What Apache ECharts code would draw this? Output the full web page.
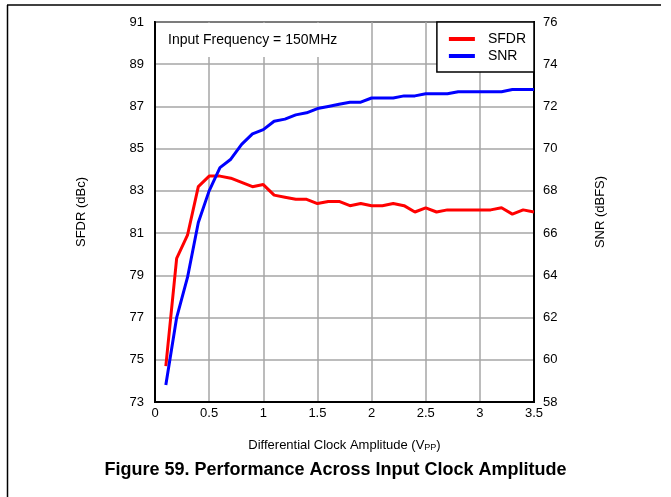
<!DOCTYPE html>
<html>
<head>
<meta charset="utf-8">
<script src="https://cdn.jsdelivr.net/npm/echarts@6/dist/echarts.min.js"></script>
<style>
    html, body { margin: 0; padding: 0; background: #fff; }
</style>
</head>
<body>
<div id="main" style="width: 671px; height: 497px"></div>
<script>
// 差分时钟幅度 (Vpp)
var amplitude = [0.1, 0.2, 0.3, 0.4, 0.5, 0.6, 0.7, 0.8, 0.9, 1.0,
    1.1, 1.2, 1.3, 1.4, 1.5, 1.6, 1.7, 1.8, 1.9, 2.0,
    2.1, 2.2, 2.3, 2.4, 2.5, 2.6, 2.7, 2.8, 2.9, 3.0,
    3.1, 3.2, 3.3, 3.4, 3.5]
// SFDR (dBc)
var sfdr = [74.7, 79.8, 80.9, 83.2, 83.7, 83.7, 83.6, 83.4, 83.2, 83.3,
    82.8, 82.7, 82.6, 82.6, 82.4, 82.5, 82.5, 82.3, 82.4, 82.3,
    82.3, 82.4, 82.3, 82.0, 82.2, 82.0, 82.1, 82.1, 82.1, 82.1,
    82.1, 82.2, 81.9, 82.1, 82.0]
// SNR (dBFS)
var snr = [58.8, 62.0, 63.9, 66.5, 68.0, 69.1, 69.5, 70.2, 70.7, 70.9,
    71.3, 71.4, 71.6, 71.7, 71.9, 72.0, 72.1, 72.2, 72.2, 72.4,
    72.4, 72.4, 72.5, 72.5, 72.6, 72.6, 72.6, 72.7, 72.7, 72.7,
    72.7, 72.7, 72.8, 72.8, 72.8]
var leftTicks = [73, 75, 77, 79, 81, 83, 85, 87, 89, 91]
var rightTicks = [58, 60, 62, 64, 66, 68, 70, 72, 74, 76]
var xTicks = [0, 0.5, 1, 1.5, 2, 2.5, 3, 3.5]

var font = 'Liberation Sans, Arial, sans-serif'

function pairs(xs, ys) {
    return xs.map(function (x, i) { return [x, ys[i]] })
}

var myChart = echarts.init(document.getElementById('main'))
var option = {
    animation: false,
    textStyle: { fontFamily: font, color: '#000' },
    title: {
        text: 'Input Frequency = 150MHz',
        left: 156,
        top: 23,
        padding: [10, 12, 10, 12],
        backgroundColor: '#fff',
        textStyle: { fontFamily: font, fontSize: 14, fontWeight: 'normal', color: '#000' }
    },
    legend: {
        data: ['SFDR', 'SNR'],
        orient: 'vertical',
        right: 137,
        top: 22,
        padding: [10, 8, 9, 12],
        itemGap: 3,
        itemWidth: 26,
        itemHeight: 4,
        icon: 'rect',
        backgroundColor: '#fff',
        borderColor: '#000',
        borderWidth: 1.5,
        borderRadius: 0,
        textStyle: { fontFamily: font, fontSize: 14, color: '#000', padding: [0, 0, 0, 8] }
    },
    grid: {
        left: 155,
        right: 137,
        top: 22,
        bottom: 95,
        show: true,
        borderColor: '#000',
        borderWidth: 2,
        backgroundColor: '#fff'
    },
    xAxis: {
        type: 'value',
        min: 0,
        max: 3.5,
        interval: 0.5,
        name: '{a|Differential Clock Amplitude (V}{s|PP}{a|)}',
        nameLocation: 'middle',
        nameGap: 35,
        nameTextStyle: {
            rich: {
                a: { fontFamily: font, fontSize: 13, color: '#000', lineHeight: 16 },
                s: { fontFamily: font, fontSize: 9, color: '#000', padding: [5, 0, 0, 0] }
            }
        },
        axisLine: { lineStyle: { color: '#000', width: 2 } },
        axisTick: { show: false },
        axisLabel: { fontFamily: font, fontSize: 13, color: '#000', margin: 5,
            formatter: function (v) { return xTicks.indexOf(v) >= 0 ? String(v) : '' } },
        splitLine: { show: true, lineStyle: { color: '#a6a6a6', width: 1.5 } }
    },
    yAxis: [
        {
            type: 'value',
            min: 73,
            max: 91,
            name: 'SFDR (dBc)',
            nameLocation: 'middle',
            nameGap: 67,
            nameTextStyle: { fontFamily: font, fontSize: 13, color: '#000' },
            axisLine: { lineStyle: { color: '#000', width: 2 } },
            axisTick: { show: false, customValues: leftTicks },
            axisLabel: { fontFamily: font, fontSize: 13, color: '#000', margin: 11, customValues: leftTicks },
            splitLine: { show: true, lineStyle: { color: '#a6a6a6', width: 1.5 } }
        },
        {
            type: 'value',
            min: 58,
            max: 76,
            interval: 2,
            name: 'SNR (dBFS)',
            nameLocation: 'middle',
            nameGap: 60,
            nameTextStyle: { fontFamily: font, fontSize: 13, color: '#000' },
            axisLine: { show: true, lineStyle: { color: '#000', width: 2 } },
            axisTick: { show: false },
            axisLabel: { fontFamily: font, fontSize: 13, color: '#000', margin: 9 },
            splitLine: { show: false }
        }
    ],
    series: [
        {
            name: 'SFDR',
            type: 'line',
            yAxisIndex: 0,
            symbol: 'none',
            lineStyle: { color: '#ff0000', width: 3 },
            itemStyle: { color: '#ff0000' },
            data: pairs(amplitude, sfdr)
        },
        {
            name: 'SNR',
            type: 'line',
            yAxisIndex: 1,
            symbol: 'none',
            lineStyle: { color: '#0000ff', width: 3 },
            itemStyle: { color: '#0000ff' },
            data: pairs(amplitude, snr)
        }
    ],
    graphic: [
        // 页面边框
        { type: 'line', shape: { x1: 7, y1: 5, x2: 661, y2: 5 }, style: { stroke: '#000', lineWidth: 1.5 } },
        { type: 'line', shape: { x1: 7.5, y1: 5, x2: 7.5, y2: 497 }, style: { stroke: '#000', lineWidth: 1.5 } },
        {
            type: 'text',
            left: 'center',
            top: 461,
            style: {
                text: 'Figure 59. Performance Across Input Clock Amplitude',
                fontFamily: font,
                fontSize: 18,
                fontWeight: 'bold',
                fill: '#000'
            }
        }
    ]
}
option && myChart.setOption(option)
</script>
</body>
</html>
